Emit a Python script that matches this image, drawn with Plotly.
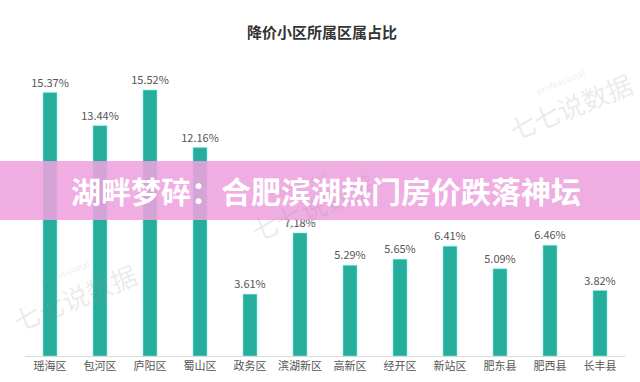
import plotly.graph_objects as go

districts = ["瑶海区", "包河区", "庐阳区", "蜀山区", "政务区", "滨湖新区",
             "高新区", "经开区", "新站区", "肥东县", "肥西县", "长丰县"]
shares = [15.37, 13.44, 15.52, 12.16, 3.61, 7.18, 5.29, 5.65, 6.41, 5.09, 6.46, 3.82]
labels = [f"{v:.2f}%" for v in shares]

title_text = "降价小区所属区属占比"
banner_text = "湖畔梦碎：合肥滨湖热门房价跌落神坛"
wm_text = "七七说数据"

T, B = 56, 26
H = 382 - T - B

fig = go.Figure()
fig.add_trace(go.Bar(
    x=districts, y=shares, text=labels, textposition="outside", constraintext="none",
    textfont=dict(size=11, color="#555555", family="Noto Sans CJK SC"),
    marker=dict(color="#27ad9c", line=dict(color="rgba(120,240,230,0.6)", width=1)),
    width=0.28, cliponaxis=False,
))

fig.update_layout(
    width=640, height=382,
    margin=dict(l=25, r=15, t=T, b=B, autoexpand=False),
    plot_bgcolor="white", paper_bgcolor="white",
    showlegend=False,
    title=dict(text="<b>" + title_text + "</b>", x=0.503, xanchor="center",
               y=1 - 33 / 382, yanchor="middle",
               font=dict(size=15, color="#333333", family="Noto Sans CJK SC")),
    xaxis=dict(showgrid=False, showline=True, linecolor="#d9d9d9", linewidth=1,
               ticks="", tickfont=dict(size=11, color="#555555", family="Noto Sans CJK SC")),
    yaxis=dict(visible=False, range=[0, H / 17.14]),
    font=dict(family="Noto Sans CJK SC"),
)

# faint watermarks (pixel positions converted to paper coords)
wm_px = [(568, 100), (310, 200), (72, 290)]
for (px, py) in wm_px:
    fig.add_annotation(xref="paper", yref="paper", xanchor="center", yanchor="middle",
                       x=(px - 25) / 600, y=(382 - B - py) / H, showarrow=False,
                       text="<span style='font-size:9px'>professional</span><br>" + wm_text,
                       textangle=-22, font=dict(size=26, color="rgba(150,150,150,0.2)",
                                                family="Noto Sans CJK SC"))

# pink banner
fig.add_shape(type="rect", xref="paper", yref="paper", x0=-0.05, x1=1.05,
              y0=(382 - B - 220) / H, y1=(382 - B - 161) / H,
              fillcolor="rgba(238,162,222,0.88)", line=dict(width=0), layer="above")
fig.add_annotation(xref="paper", yref="paper", xanchor="center", yanchor="middle",
                   x=(326 - 25) / 600, y=(382 - B - 190) / H,
                   showarrow=False, text="<b>" + banner_text + "</b>",
                   font=dict(size=30, color="white", family="Noto Sans CJK SC"))

fig.write_html("out.html", config={"displayModeBar": False},
               post_script="document.body.style.margin='0';document.body.style.overflow='hidden';")
